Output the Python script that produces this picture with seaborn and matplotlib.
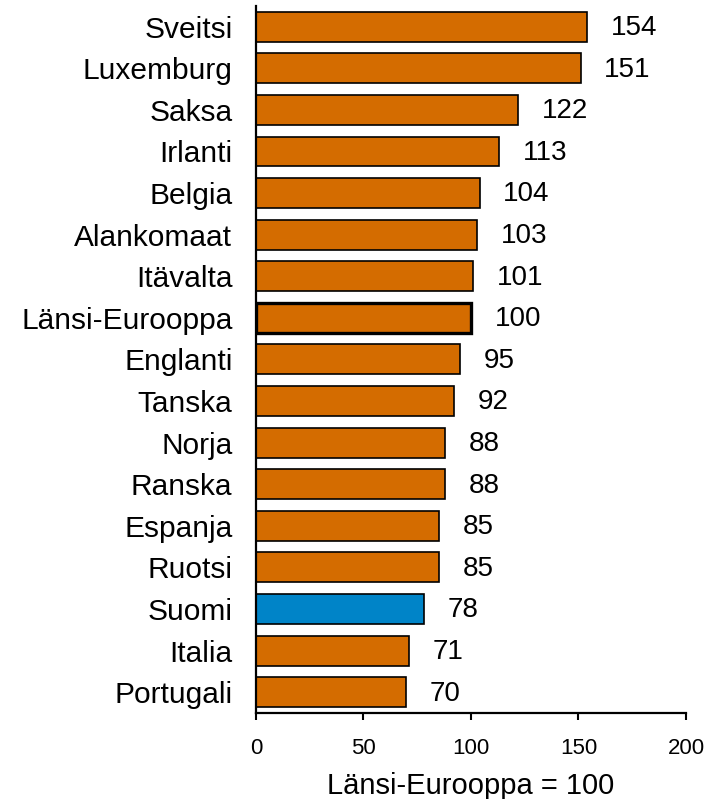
import numpy as np
import pandas as pd
import matplotlib
matplotlib.use('Agg')
import matplotlib.pyplot as plt
import seaborn as sns

countries = ['Sveitsi', 'Luxemburg', 'Saksa', 'Irlanti', 'Belgia', 'Alankomaat',
             'Itävalta', 'Länsi-Eurooppa', 'Englanti', 'Tanska', 'Norja', 'Ranska',
             'Espanja', 'Ruotsi', 'Suomi', 'Italia', 'Portugali']
values = [154, 151, 122, 113, 104, 103, 101, 100, 95, 92, 88, 88, 85, 85, 78, 71, 70]
xticks = [0, 50, 100, 150, 200]

ORANGE = '#D46C00'
BLUE = '#0084C8'

sns.set_style('white')
plt.rcParams['font.family'] = ['Liberation Sans', 'DejaVu Sans']
plt.rcParams['text.color'] = 'black'
plt.rcParams['xtick.color'] = 'black'
plt.rcParams['ytick.color'] = 'black'
plt.rcParams['axes.labelcolor'] = 'black'

df = pd.DataFrame({'maa': countries, 'arvo': values})
colors = [BLUE if c == 'Suomi' else ORANGE for c in countries]

fig = plt.figure(figsize=(7.06, 7.99), dpi=100)
ax = fig.add_axes([0.3626, 0.1076, 0.609, 0.885])

sns.barplot(data=df, y='maa', x='arvo', hue='maa', palette=colors, legend=False,
            orient='h', width=0.72, edgecolor='black', linewidth=1.2,
            saturation=1, ax=ax)

# Länsi-Eurooppa paksummalla reunalla
for patch, c in zip(ax.patches, countries):
    if c == 'Länsi-Eurooppa':
        patch.set_linewidth(2.4)

for i, v in enumerate(values):
    ax.annotate(str(v), xy=(v, i), xytext=(17, -1), textcoords='offset points',
                va='center', ha='left', fontsize=20)

ax.set_xlim(0, 200)
ax.set_ylim(16.5, -0.5)
ax.set_xticks(xticks)
ax.set_xticklabels([str(t) for t in xticks], fontsize=16)
ax.tick_params(axis='x', direction='out', length=5, width=1.5, pad=13, bottom=True)
ax.tick_params(axis='y', length=0, labelsize=21.5, pad=17)
ax.set_ylabel('')
ax.set_xlabel('Länsi-Eurooppa = 100', fontsize=21, labelpad=9)

for s in ['top', 'right']:
    ax.spines[s].set_visible(False)
for s in ['left', 'bottom']:
    ax.spines[s].set_color('black')
    ax.spines[s].set_linewidth(1.6)

fig.savefig('out.png', dpi=100)
